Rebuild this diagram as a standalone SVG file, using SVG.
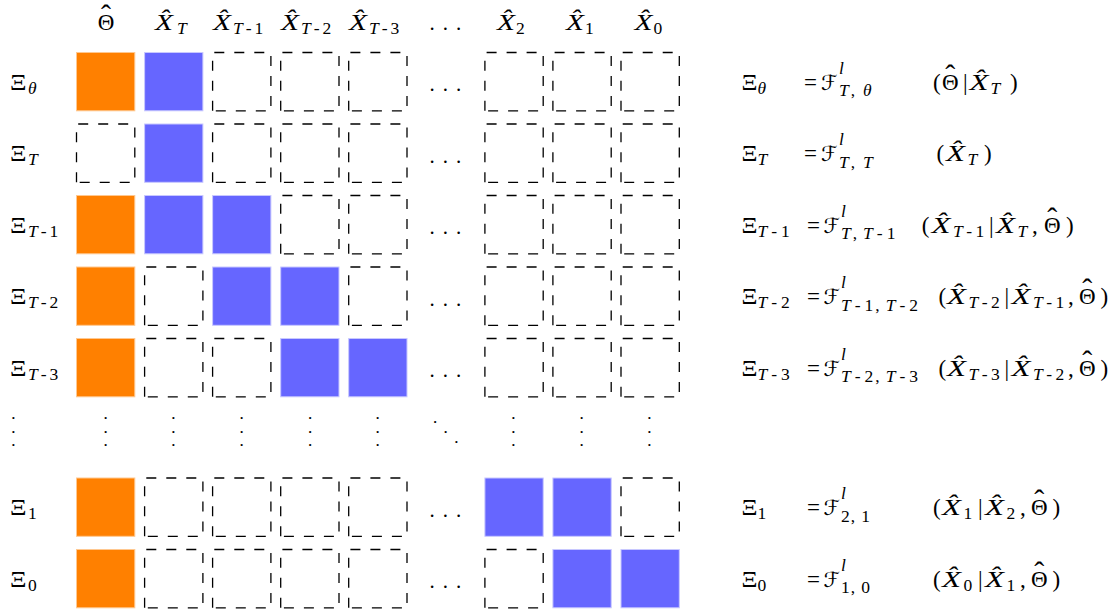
<svg xmlns="http://www.w3.org/2000/svg" width="1118" height="610" viewBox="0 0 1118 610">
<style>
text{font-family:"Liberation Serif","Times New Roman",serif;fill:#000}
.m{font-size:23px}
.x{font-size:24px;font-style:italic}
.i{font-style:italic}
.s{font-size:17.5px}
.hh{font-size:30px}
.F{font-family:"DejaVu Serif","DejaVu Sans",serif;font-size:21px}
.dt{font-size:13px;font-weight:bold;text-anchor:middle}
.hd{font-size:21px;letter-spacing:8px}
.or{fill:#FF8000;stroke:#FFC890;stroke-width:1}
.bl{fill:#6666FF;stroke:#C8C8FF;stroke-width:1}
.da{fill:none;stroke:#000;stroke-width:1.3;stroke-dasharray:10 10}
</style>
<defs>
<path id="db" class="da" d="M0,58.3V0H58.3V58.3Z"/>
<rect id="ob" class="or" width="58.3" height="58.3"/>
<rect id="bb" class="bl" width="58.3" height="58.3"/>
</defs>
<rect width="1118" height="610" fill="#fff"/>

<g id="header">
<text class="m" x="97.7" y="30">Θ<tspan class="hh" dx="-13.3" dy="-5">ˆ</tspan></text>
<text class="x" x="155" y="30" textLength="18" lengthAdjust="spacingAndGlyphs">X̂</text><text class="s i" x="177" y="34">T</text>
<text class="x" x="213" y="30" textLength="18" lengthAdjust="spacingAndGlyphs">X̂</text><text class="s" x="233" y="34"><tspan class="i">T</tspan><tspan dx="3">-</tspan><tspan dx="3">1</tspan></text>
<text class="x" x="281" y="30" textLength="18" lengthAdjust="spacingAndGlyphs">X̂</text><text class="s" x="301" y="34"><tspan class="i">T</tspan><tspan dx="3">-</tspan><tspan dx="3">2</tspan></text>
<text class="x" x="349" y="30" textLength="18" lengthAdjust="spacingAndGlyphs">X̂</text><text class="s" x="369" y="34"><tspan class="i">T</tspan><tspan dx="3">-</tspan><tspan dx="3">3</tspan></text>
<text class="hd" x="429.5" y="29.5">...</text>
<text class="x" x="497" y="30" textLength="18" lengthAdjust="spacingAndGlyphs">X̂</text><text class="s" x="516" y="34">2</text>
<text class="x" x="566" y="30" textLength="18" lengthAdjust="spacingAndGlyphs">X̂</text><text class="s" x="585" y="34">1</text>
<text class="x" x="634.5" y="30" textLength="18" lengthAdjust="spacingAndGlyphs">X̂</text><text class="s" x="653.5" y="34">0</text>
</g>

<g id="row-theta">
<text class="m" x="10" y="89.5" textLength="16.5" lengthAdjust="spacingAndGlyphs">Ξ</text><text class="s i" x="28" y="93.5">θ</text>
<use id="c-theta-0" href="#ob" x="76.5" y="52.5"/>
<use id="c-theta-1" href="#bb" x="144.6" y="52.5"/>
<use id="c-theta-2" href="#db" x="212.6" y="52.5"/>
<use id="c-theta-3" href="#db" x="280.7" y="52.5"/>
<use id="c-theta-4" href="#db" x="348.7" y="52.5"/>
<text class="hd" x="429.5" y="91">...</text>
<use id="c-theta-6" href="#db" x="484.9" y="52.5"/>
<use id="c-theta-7" href="#db" x="552.9" y="52.5"/>
<use id="c-theta-8" href="#db" x="621" y="52.5"/>
</g>

<g id="row-T">
<text class="m" x="10" y="161" textLength="16.5" lengthAdjust="spacingAndGlyphs">Ξ</text><text class="s i" x="28" y="165">T</text>
<use id="c-T-0" href="#db" x="76.5" y="124"/>
<use id="c-T-1" href="#bb" x="144.6" y="124"/>
<use id="c-T-2" href="#db" x="212.6" y="124"/>
<use id="c-T-3" href="#db" x="280.7" y="124"/>
<use id="c-T-4" href="#db" x="348.7" y="124"/>
<text class="hd" x="429.5" y="162.5">...</text>
<use id="c-T-6" href="#db" x="484.9" y="124"/>
<use id="c-T-7" href="#db" x="552.9" y="124"/>
<use id="c-T-8" href="#db" x="621" y="124"/>
</g>

<g id="row-T1">
<text class="m" x="10" y="232.5" textLength="16.5" lengthAdjust="spacingAndGlyphs">Ξ</text><text class="s" x="28" y="236.5"><tspan class="i">T</tspan><tspan dx="3">-</tspan><tspan dx="3">1</tspan></text>
<use id="c-T1-0" href="#ob" x="76.5" y="195.5"/>
<use id="c-T1-1" href="#bb" x="144.6" y="195.5"/>
<use id="c-T1-2" href="#bb" x="212.6" y="195.5"/>
<use id="c-T1-3" href="#db" x="280.7" y="195.5"/>
<use id="c-T1-4" href="#db" x="348.7" y="195.5"/>
<text class="hd" x="429.5" y="234">...</text>
<use id="c-T1-6" href="#db" x="484.9" y="195.5"/>
<use id="c-T1-7" href="#db" x="552.9" y="195.5"/>
<use id="c-T1-8" href="#db" x="621" y="195.5"/>
</g>

<g id="row-T2">
<text class="m" x="10" y="304" textLength="16.5" lengthAdjust="spacingAndGlyphs">Ξ</text><text class="s" x="28" y="308"><tspan class="i">T</tspan><tspan dx="3">-</tspan><tspan dx="3">2</tspan></text>
<use id="c-T2-0" href="#ob" x="76.5" y="267"/>
<use id="c-T2-1" href="#db" x="144.6" y="267"/>
<use id="c-T2-2" href="#bb" x="212.6" y="267"/>
<use id="c-T2-3" href="#bb" x="280.7" y="267"/>
<use id="c-T2-4" href="#db" x="348.7" y="267"/>
<text class="hd" x="429.5" y="305.5">...</text>
<use id="c-T2-6" href="#db" x="484.9" y="267"/>
<use id="c-T2-7" href="#db" x="552.9" y="267"/>
<use id="c-T2-8" href="#db" x="621" y="267"/>
</g>

<g id="row-T3">
<text class="m" x="10" y="375.5" textLength="16.5" lengthAdjust="spacingAndGlyphs">Ξ</text><text class="s" x="28" y="379.5"><tspan class="i">T</tspan><tspan dx="3">-</tspan><tspan dx="3">3</tspan></text>
<use id="c-T3-0" href="#ob" x="76.5" y="338.5"/>
<use id="c-T3-1" href="#db" x="144.6" y="338.5"/>
<use id="c-T3-2" href="#db" x="212.6" y="338.5"/>
<use id="c-T3-3" href="#bb" x="280.7" y="338.5"/>
<use id="c-T3-4" href="#bb" x="348.7" y="338.5"/>
<text class="hd" x="429.5" y="377">...</text>
<use id="c-T3-6" href="#db" x="484.9" y="338.5"/>
<use id="c-T3-7" href="#db" x="552.9" y="338.5"/>
<use id="c-T3-8" href="#db" x="621" y="338.5"/>
</g>

<g id="row-vdots">
<text class="dt" x="13.3"><tspan x="13.3" y="419.1">.</tspan><tspan x="13.3" y="432.5">.</tspan><tspan x="13.3" y="445.8">.</tspan></text>
<text class="dt" x="105.7"><tspan x="105.7" y="419.1">.</tspan><tspan x="105.7" y="432.5">.</tspan><tspan x="105.7" y="445.8">.</tspan></text>
<text class="dt" x="173.3"><tspan x="173.3" y="419.1">.</tspan><tspan x="173.3" y="432.5">.</tspan><tspan x="173.3" y="445.8">.</tspan></text>
<text class="dt" x="241.7"><tspan x="241.7" y="419.1">.</tspan><tspan x="241.7" y="432.5">.</tspan><tspan x="241.7" y="445.8">.</tspan></text>
<text class="dt" x="310"><tspan x="310" y="419.1">.</tspan><tspan x="310" y="432.5">.</tspan><tspan x="310" y="445.8">.</tspan></text>
<text class="dt" x="377.7"><tspan x="377.7" y="419.1">.</tspan><tspan x="377.7" y="432.5">.</tspan><tspan x="377.7" y="445.8">.</tspan></text>
<text class="dt" x="435"><tspan x="435" y="422.5">.</tspan><tspan x="445.7" y="432.5">.</tspan><tspan x="456.3" y="443.1">.</tspan></text>
<text class="dt" x="513.3"><tspan x="513.3" y="419.1">.</tspan><tspan x="513.3" y="432.5">.</tspan><tspan x="513.3" y="445.8">.</tspan></text>
<text class="dt" x="581.7"><tspan x="581.7" y="419.1">.</tspan><tspan x="581.7" y="432.5">.</tspan><tspan x="581.7" y="445.8">.</tspan></text>
<text class="dt" x="649.3"><tspan x="649.3" y="419.1">.</tspan><tspan x="649.3" y="432.5">.</tspan><tspan x="649.3" y="445.8">.</tspan></text>
</g>

<g id="row-1">
<text class="m" x="10" y="515" textLength="16.5" lengthAdjust="spacingAndGlyphs">Ξ</text><text class="s" x="28" y="519">1</text>
<use id="c-1-0" href="#ob" x="76.5" y="478"/>
<use id="c-1-1" href="#db" x="144.6" y="478"/>
<use id="c-1-2" href="#db" x="212.6" y="478"/>
<use id="c-1-3" href="#db" x="280.7" y="478"/>
<use id="c-1-4" href="#db" x="348.7" y="478"/>
<text class="hd" x="429.5" y="516.5">...</text>
<use id="c-1-6" href="#bb" x="484.9" y="478"/>
<use id="c-1-7" href="#bb" x="552.9" y="478"/>
<use id="c-1-8" href="#db" x="621" y="478"/>
</g>

<g id="row-0">
<text class="m" x="10" y="586.5" textLength="16.5" lengthAdjust="spacingAndGlyphs">Ξ</text><text class="s" x="28" y="590.5">0</text>
<use id="c-0-0" href="#ob" x="76.5" y="549.5"/>
<use id="c-0-1" href="#db" x="144.6" y="549.5"/>
<use id="c-0-2" href="#db" x="212.6" y="549.5"/>
<use id="c-0-3" href="#db" x="280.7" y="549.5"/>
<use id="c-0-4" href="#db" x="348.7" y="549.5"/>
<text class="hd" x="429.5" y="588">...</text>
<use id="c-0-6" href="#db" x="484.9" y="549.5"/>
<use id="c-0-7" href="#bb" x="552.9" y="549.5"/>
<use id="c-0-8" href="#bb" x="621" y="549.5"/>
</g>

<g id="equations">
<g id="eq-theta">
<text class="m" x="741.5" y="89.5" textLength="16" lengthAdjust="spacingAndGlyphs">Ξ</text><text class="s i" x="757.5" y="93.5">θ</text>
<text class="m" x="804" y="89.5">=</text>
<text class="F" x="821" y="89.5">ℱ</text><text class="s i" x="839" y="73.5">l</text><text class="s" x="839" y="96"><tspan class="i">T</tspan><tspan dx="2">,</tspan><tspan class="i" dx="8">θ</tspan></text>
<text class="m" x="933" y="89.5">(</text>
<text class="m" x="942" y="89.5">Θ<tspan class="hh" dx="-13.3" dy="-5">ˆ</tspan></text>
<text class="m" x="963" y="89.5">|</text>
<text class="x" x="969.5" y="89.5" textLength="19" lengthAdjust="spacingAndGlyphs">X̂</text><text class="s i" x="990.5" y="93.5">T</text>
<text class="m" x="1010" y="89.5">)</text>
</g>
<g id="eq-T">
<text class="m" x="741.5" y="161" textLength="16" lengthAdjust="spacingAndGlyphs">Ξ</text><text class="s i" x="757.5" y="165">T</text>
<text class="m" x="804" y="161">=</text>
<text class="F" x="821" y="161">ℱ</text><text class="s i" x="839" y="145">l</text><text class="s" x="839" y="167.5"><tspan class="i">T</tspan><tspan dx="2">,</tspan><tspan class="i" dx="8">T</tspan></text>
<text class="m" x="936.5" y="161">(</text>
<text class="x" x="946" y="161" textLength="19" lengthAdjust="spacingAndGlyphs">X̂</text><text class="s i" x="967.5" y="165">T</text>
<text class="m" x="984" y="161">)</text>
</g>
<g id="eq-T1">
<text class="m" x="741.5" y="232.5" textLength="16" lengthAdjust="spacingAndGlyphs">Ξ</text><text class="s" x="757.5" y="236.5"><tspan class="i">T</tspan><tspan dx="4">-</tspan><tspan dx="4">1</tspan></text>
<text class="m" x="807" y="232.5">=</text>
<text class="F" x="823.5" y="232.5">ℱ</text><text class="s i" x="841" y="216.5">l</text><text class="s" x="841" y="239"><tspan class="i">T</tspan><tspan dx="2">,</tspan><tspan class="i" dx="6">T</tspan><tspan dx="4">-</tspan><tspan dx="4">1</tspan></text>
<text class="m" x="921.7" y="232.5">(</text>
<text class="x" x="931.5" y="232.5" textLength="19" lengthAdjust="spacingAndGlyphs">X̂</text><text class="s" x="953" y="236.5"><tspan class="i">T</tspan><tspan dx="3.5">-</tspan><tspan dx="3.5">1</tspan></text>
<text class="m" x="989" y="232.5">|</text>
<text class="x" x="996" y="232.5" textLength="19" lengthAdjust="spacingAndGlyphs">X̂</text><text class="s i" x="1017.5" y="236.5">T</text>
<text class="m" x="1032" y="232.5">,</text>
<text class="m" x="1044" y="232.5">Θ<tspan class="hh" dx="-13.3" dy="-5">ˆ</tspan></text>
<text class="m" x="1066" y="232.5">)</text>
</g>
<g id="eq-T2">
<text class="m" x="741.5" y="304" textLength="16" lengthAdjust="spacingAndGlyphs">Ξ</text><text class="s" x="757.5" y="308"><tspan class="i">T</tspan><tspan dx="4">-</tspan><tspan dx="4">2</tspan></text>
<text class="m" x="807" y="304">=</text>
<text class="F" x="823.5" y="304">ℱ</text><text class="s i" x="841" y="288">l</text><text class="s" x="841" y="310.5"><tspan class="i">T</tspan><tspan dx="4">-</tspan><tspan dx="4">1</tspan><tspan dx="2">,</tspan><tspan class="i" dx="6">T</tspan><tspan dx="4">-</tspan><tspan dx="4">2</tspan></text>
<text class="m" x="938.5" y="304">(</text>
<text class="x" x="947" y="304" textLength="19" lengthAdjust="spacingAndGlyphs">X̂</text><text class="s" x="968.5" y="308"><tspan class="i">T</tspan><tspan dx="3.5">-</tspan><tspan dx="3.5">2</tspan></text>
<text class="m" x="1004.5" y="304">|</text>
<text class="x" x="1011.5" y="304" textLength="19" lengthAdjust="spacingAndGlyphs">X̂</text><text class="s" x="1033" y="308"><tspan class="i">T</tspan><tspan dx="3.5">-</tspan><tspan dx="3.5">1</tspan></text>
<text class="m" x="1068" y="304">,</text>
<text class="m" x="1079" y="304">Θ<tspan class="hh" dx="-13.3" dy="-5">ˆ</tspan></text>
<text class="m" x="1100.5" y="304">)</text>
</g>
<g id="eq-T3">
<text class="m" x="741.5" y="375.5" textLength="16" lengthAdjust="spacingAndGlyphs">Ξ</text><text class="s" x="757.5" y="379.5"><tspan class="i">T</tspan><tspan dx="4">-</tspan><tspan dx="4">3</tspan></text>
<text class="m" x="807" y="375.5">=</text>
<text class="F" x="823.5" y="375.5">ℱ</text><text class="s i" x="841" y="359.5">l</text><text class="s" x="841" y="382"><tspan class="i">T</tspan><tspan dx="4">-</tspan><tspan dx="4">2</tspan><tspan dx="2">,</tspan><tspan class="i" dx="6">T</tspan><tspan dx="4">-</tspan><tspan dx="4">3</tspan></text>
<text class="m" x="938.5" y="375.5">(</text>
<text class="x" x="947" y="375.5" textLength="19" lengthAdjust="spacingAndGlyphs">X̂</text><text class="s" x="968.5" y="379.5"><tspan class="i">T</tspan><tspan dx="3.5">-</tspan><tspan dx="3.5">3</tspan></text>
<text class="m" x="1004.5" y="375.5">|</text>
<text class="x" x="1011.5" y="375.5" textLength="19" lengthAdjust="spacingAndGlyphs">X̂</text><text class="s" x="1033" y="379.5"><tspan class="i">T</tspan><tspan dx="3.5">-</tspan><tspan dx="3.5">2</tspan></text>
<text class="m" x="1068" y="375.5">,</text>
<text class="m" x="1079" y="375.5">Θ<tspan class="hh" dx="-13.3" dy="-5">ˆ</tspan></text>
<text class="m" x="1100.5" y="375.5">)</text>
</g>
<g id="eq-1">
<text class="m" x="741.5" y="515" textLength="16" lengthAdjust="spacingAndGlyphs">Ξ</text><text class="s" x="757.5" y="519">1</text>
<text class="m" x="807" y="515">=</text>
<text class="F" x="823.5" y="515">ℱ</text><text class="s i" x="841" y="499">l</text><text class="s" x="841" y="521.5">2<tspan dx="1">,</tspan><tspan dx="6">1</tspan></text>
<text class="m" x="933" y="515">(</text>
<text class="x" x="942" y="515" textLength="19" lengthAdjust="spacingAndGlyphs">X̂</text><text class="s" x="963.5" y="519">1</text>
<text class="m" x="978" y="515">|</text>
<text class="x" x="985" y="515" textLength="19" lengthAdjust="spacingAndGlyphs">X̂</text><text class="s" x="1006.5" y="519">2</text>
<text class="m" x="1020" y="515">,</text>
<text class="m" x="1031" y="515">Θ<tspan class="hh" dx="-13.3" dy="-5">ˆ</tspan></text>
<text class="m" x="1052.5" y="515">)</text>
</g>
<g id="eq-0">
<text class="m" x="741.5" y="586.5" textLength="16" lengthAdjust="spacingAndGlyphs">Ξ</text><text class="s" x="757.5" y="590.5">0</text>
<text class="m" x="807" y="586.5">=</text>
<text class="F" x="823.5" y="586.5">ℱ</text><text class="s i" x="841" y="570.5">l</text><text class="s" x="841" y="593">1<tspan dx="1">,</tspan><tspan dx="6">0</tspan></text>
<text class="m" x="933" y="586.5">(</text>
<text class="x" x="942" y="586.5" textLength="19" lengthAdjust="spacingAndGlyphs">X̂</text><text class="s" x="963.5" y="590.5">0</text>
<text class="m" x="978" y="586.5">|</text>
<text class="x" x="985" y="586.5" textLength="19" lengthAdjust="spacingAndGlyphs">X̂</text><text class="s" x="1006.5" y="590.5">1</text>
<text class="m" x="1020" y="586.5">,</text>
<text class="m" x="1031" y="586.5">Θ<tspan class="hh" dx="-13.3" dy="-5">ˆ</tspan></text>
<text class="m" x="1052.5" y="586.5">)</text>
</g>
</g>
<g id="connectors"/>
</svg>
